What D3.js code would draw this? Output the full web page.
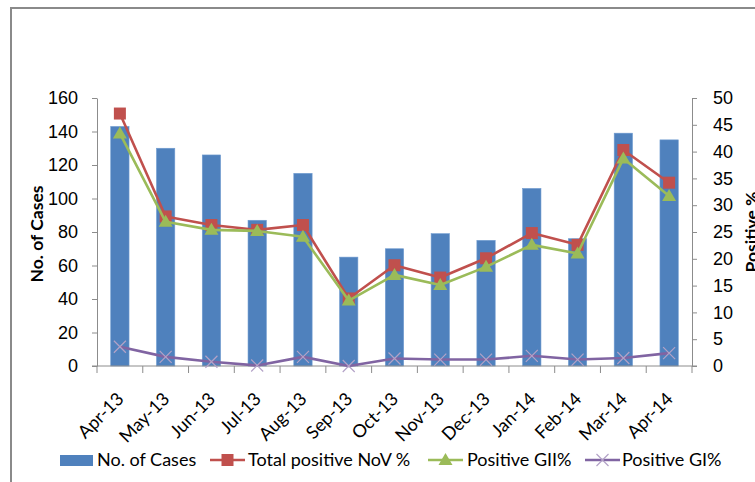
<!DOCTYPE html>
<html>
<head>
<meta charset="utf-8">
<script src="https://cdn.jsdelivr.net/npm/d3@7"></script>
<style>
  body { margin: 0; background: #fff; }
  svg { display: block; font-family: Lato, "Open Sans", sans-serif; }
  .axis path, .axis line { stroke: #8c8c8c; }
  .axis text { fill: #000; font-size: 18px; }
</style>
</head>
<body>
<div id="chart"></div>
<script>
//
// DATA
//
const months = ['Apr-13', 'May-13', 'Jun-13', 'Jul-13', 'Aug-13', 'Sep-13', 'Oct-13',
    'Nov-13', 'Dec-13', 'Jan-14', 'Feb-14', 'Mar-14', 'Apr-14']
const cases = [143, 130, 126, 87, 115, 65, 70, 79, 75, 106, 76, 139, 135]
const novPct = [47.1, 27.9, 26.3, 25.4, 26.3, 12.6, 18.8, 16.5, 20.1, 24.8, 22.6, 40.3, 34.2]
const giiPct = [43.4, 26.9, 25.4, 25.2, 24.1, 12.2, 17.0, 15.1, 18.5, 22.6, 21.0, 38.7, 31.7]
const giPct = [3.6, 1.7, 0.8, 0.1, 1.7, 0.0, 1.4, 1.2, 1.2, 1.9, 1.2, 1.5, 2.4]
const casesTicks = [0, 20, 40, 60, 80, 100, 120, 140, 160]
const pctTicks = [0, 5, 10, 15, 20, 25, 30, 35, 40, 45, 50]

//
// GLOBALS
//
const width = 755
const height = 482
const plot = { left: 97, right: 692, top: 98, bottom: 366 }
const colors = { bar: '#4f81bd', nov: '#c0504d', gii: '#9bbb59', gi: '#8064a2' }

const svg = d3.select('#chart').append('svg').attr('width', width).attr('height', height)

// outer frame (cut off at right and bottom like the original)
svg.append('path')
    .attr('d', `M11,${height + 5}V8H${width + 5}`)
    .attr('fill', 'none').attr('stroke', '#8a8a8a').attr('stroke-width', 2)

// scales
const x = d3.scaleBand().domain(months).range([plot.left, plot.right])
const xBar = d3.scaleBand().domain(months).range([plot.left, plot.right])
    .paddingInner(0.6).paddingOuter(0.3)
const yL = d3.scaleLinear().domain([0, 160]).range([plot.bottom, plot.top])
const yR = d3.scaleLinear().domain([0, 50]).range([plot.bottom, plot.top])

// bars
svg.append('g').selectAll('rect').data(cases).join('rect')
    .attr('x', (d, i) => xBar(months[i]))
    .attr('width', xBar.bandwidth())
    .attr('y', d => yL(d))
    .attr('height', d => yL(0) - yL(d))
    .attr('fill', colors.bar)
    .attr('stroke', '#6f9bd0').attr('stroke-width', 0.6)

// axes
svg.append('g').attr('class', 'axis').attr('transform', `translate(${plot.left},0)`)
    .call(d3.axisLeft(yL).tickValues(casesTicks).tickSize(5).tickSizeOuter(0).tickPadding(14))
svg.append('g').attr('class', 'axis').attr('transform', `translate(${plot.right},0)`)
    .call(d3.axisRight(yR).tickValues(pctTicks).tickSize(5).tickSizeOuter(0).tickPadding(16))

// x axis: line + ticks on category boundaries
const gX = svg.append('g').attr('class', 'axis').attr('transform', `translate(0,${plot.bottom})`)
gX.append('line').attr('x1', plot.left - 5).attr('x2', plot.right + 5)
    .attr('stroke', '#8c8c8c')
gX.selectAll('line.tk').data(d3.range(months.length + 1)).join('line')
    .attr('class', 'tk')
    .attr('x1', i => plot.left + i * x.step()).attr('x2', i => plot.left + i * x.step())
    .attr('y1', 0).attr('y2', 7).attr('stroke', '#8c8c8c')
gX.selectAll('text').data(months).join('text')
    .attr('transform', d => `translate(${x(d) + x.bandwidth() / 2 + 5},34) rotate(-45)`)
    .attr('text-anchor', 'end')
    .text(d => d)

// lines
const series = [
    { name: 'Total positive NoV %', values: novPct, color: colors.nov, marker: 'square' },
    { name: 'Positive GII%', values: giiPct, color: colors.gii, marker: 'triangle' },
    { name: 'Positive GI%', values: giPct, color: colors.gi, marker: 'cross' },
]
const cx = i => x(months[i]) + x.bandwidth() / 2

const drawMarker = (g, type, px, py, color) => {
    if (type === 'square') {
        g.append('rect').attr('x', px - 6).attr('y', py - 6).attr('width', 12).attr('height', 12)
            .attr('fill', color)
    } else if (type === 'triangle') {
        g.append('path').attr('d', `M${px},${py - 7}L${px + 7},${py + 5}L${px - 7},${py + 5}Z`)
            .attr('fill', color)
    } else {
        g.append('path').attr('d', `M${px - 6},${py - 6}L${px + 6},${py + 6}M${px + 6},${py - 6}L${px - 6},${py + 6}`)
            .attr('stroke', '#b3a2c7').attr('stroke-width', 1.2)
    }
}

const line = d3.line().x((d, i) => cx(i)).y(d => yR(d))
series.forEach(s => {
    const g = svg.append('g')
    g.append('path').datum(s.values).attr('d', line)
        .attr('fill', 'none').attr('stroke', s.color).attr('stroke-width', 2.6)
        .attr('stroke-linejoin', 'round')
    s.values.forEach((v, i) => drawMarker(g, s.marker, cx(i), yR(v), s.color))
})

// axis titles
svg.append('text')
    .attr('transform', `translate(43,234) rotate(-90)`)
    .attr('text-anchor', 'middle')
    .style('font-size', '17.5px').style('font-weight', 'bold')
    .text('No. of Cases')
// right title is clipped by the picture edge, as in the original
svg.append('text')
    .attr('transform', `translate(758,232) rotate(-90)`)
    .attr('text-anchor', 'middle')
    .style('font-size', '17.5px').style('font-weight', 'bold')
    .text('Positive %')

// legend
const legY = 460
const leg = svg.append('g').style('font-size', '18px')
leg.append('rect').attr('x', 60).attr('y', legY - 5).attr('width', 33).attr('height', 11).attr('fill', colors.bar)
leg.append('text').attr('x', 97).attr('y', legY).attr('dy', '0.35em').text('No. of Cases')
const legItems = [
    { s: series[0], x0: 210, tx: 248 },
    { s: series[1], x0: 428, tx: 467 },
    { s: series[2], x0: 585, tx: 622 },
]
legItems.forEach(it => {
    leg.append('line').attr('x1', it.x0).attr('x2', it.x0 + 35).attr('y1', legY).attr('y2', legY)
        .attr('stroke', it.s.color).attr('stroke-width', 2.6)
    drawMarker(leg, it.s.marker, it.x0 + 17.5, legY, it.s.color)
    leg.append('text').attr('x', it.tx).attr('y', legY).attr('dy', '0.35em').text(it.s.name)
})
</script>
</body>
</html>
